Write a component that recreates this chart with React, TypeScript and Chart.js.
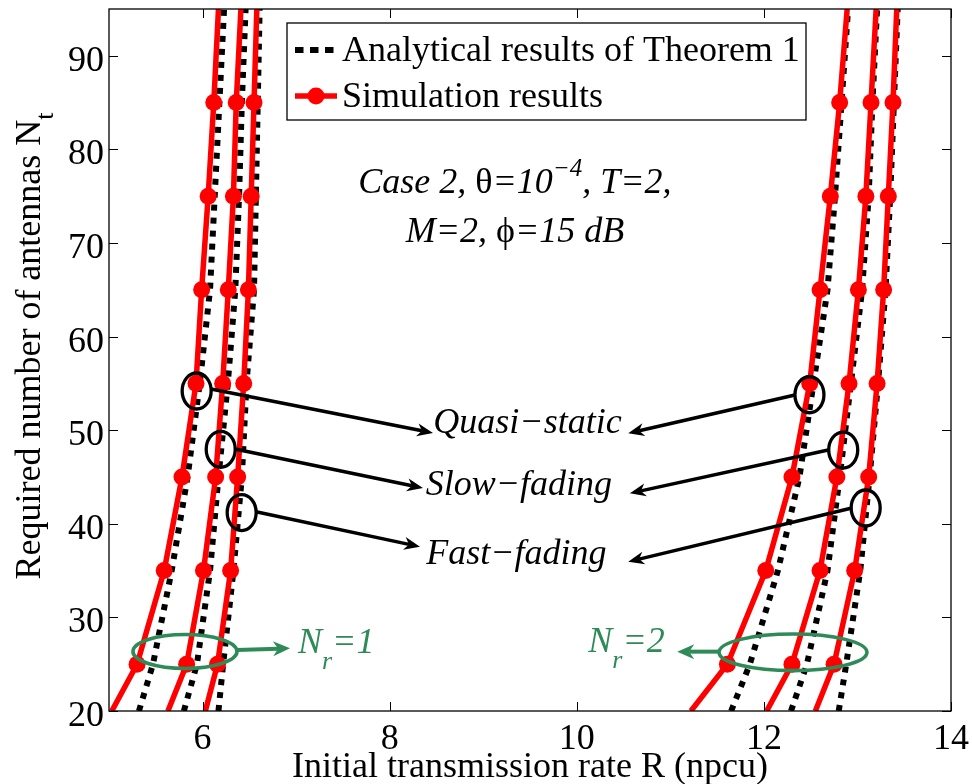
import React, { useEffect, useRef } from "react";
import { Chart, registerables } from "chart.js";

Chart.register(...registerables);

// ---------- data ----------
const X_MIN = 5;
const X_MAX = 14;
const Y_MIN = 20;
const Y_MAX = 95;
const X_TICKS = [6, 8, 10, 12, 14];
const Y_TICKS = [20, 30, 40, 50, 60, 70, 80, 90];

// required number of antennas N_t (curve sample levels)
const NT = [20, 25, 35, 45, 55, 65, 75, 85, 95];
// which levels carry a simulation marker
const MARKED = [false, true, true, true, true, true, true, true, false];

// N_r = 1 : simulation results (R in npcu)
const SIM_QS_NR1 = [5.03, 5.3, 5.59, 5.78, 5.93, 5.99, 6.06, 6.12, 6.17];
const SIM_SLOW_NR1 = [5.63, 5.83, 6.01, 6.14, 6.215, 6.275, 6.33, 6.36, 6.41];
const SIM_FAST_NR1 = [6.03, 6.16, 6.3, 6.375, 6.44, 6.49, 6.52, 6.55, 6.58];
// N_r = 1 : analytical results of Theorem 1
const ANA_QS_NR1 = [5.32, 5.47, 5.67, 5.84, 5.97, 6.08, 6.13, 6.18, 6.23];
const ANA_SLOW_NR1 = [5.8, 5.94, 6.08, 6.17, 6.27, 6.35, 6.39, 6.42, 6.46];
const ANA_FAST_NR1 = [6.17, 6.22, 6.33, 6.42, 6.47, 6.55, 6.57, 6.59, 6.61];

// N_r = 2 : simulation results
const SIM_QS_NR2 = [11.22, 11.61, 12.02, 12.3, 12.49, 12.6, 12.71, 12.81, 12.89];
const SIM_SLOW_NR2 = [12.03, 12.3, 12.6, 12.78, 12.91, 13.01, 13.09, 13.145, 13.2];
const SIM_FAST_NR2 = [12.55, 12.75, 12.97, 13.12, 13.21, 13.28, 13.33, 13.38, 13.42];
// N_r = 2 : analytical results
const ANA_QS_NR2 = [11.65, 11.85, 12.15, 12.38, 12.53, 12.68, 12.76, 12.83, 12.9];
const ANA_SLOW_NR2 = [12.29, 12.46, 12.68, 12.81, 12.93, 13.05, 13.12, 13.16, 13.21];
const ANA_FAST_NR2 = [12.8, 12.88, 13.03, 13.13, 13.22, 13.3, 13.35, 13.39, 13.43];

const SIM_SERIES = [SIM_QS_NR1, SIM_SLOW_NR1, SIM_FAST_NR1, SIM_QS_NR2, SIM_SLOW_NR2, SIM_FAST_NR2];
const ANA_SERIES = [ANA_QS_NR1, ANA_SLOW_NR1, ANA_FAST_NR1, ANA_QS_NR2, ANA_SLOW_NR2, ANA_FAST_NR2];

const LEGEND_LABELS = ["Analytical results of Theorem 1", "Simulation results"];
const X_TITLE = "Initial transmission rate R (npcu)";
const Y_TITLE = "Required number of antennas N";
const Y_TITLE_SUB = "t";
const REGIME_LABELS = ["Quasi\u2212static", "Slow\u2212fading", "Fast\u2212fading"];

// annotation anchors, in data units (R, N_t)
const BLACK_ELLIPSES = [
  [5.937, 54.19], [6.194, 47.96], [6.418, 41.2],
  [12.487, 53.79], [12.848, 47.88], [13.088, 41.69],
];
const BLACK_ARROWS = [
  [6.09, 54.4, 8.463, 49.7],
  [6.347, 47.99, 8.356, 43.82],
  [6.571, 41.29, 8.324, 37.55],
  [12.332, 53.76, 10.55, 49.67],
  [12.688, 47.88, 10.568, 43.26],
  [12.93, 41.66, 10.55, 35.95],
];
const REGIME_LABEL_POS = [[9.473, 49.7], [9.382, 43.08], [9.355, 35.71]];
const GREEN_ELLIPSES = [[5.812, 26.36, 52, 17], [12.311, 26.27, 74, 18.3]];
const GREEN_ARROWS = [[6.368, 26.52, 6.935, 26.7], [11.52, 26.34, 11.074, 26.34]];
const NR_LABELS = [["1", 7.02, 26.23], ["2", 10.123, 26.34]];
const CASE_POS = [[9.339, 75.34], [9.339, 70.11]];

// ---------- styling ----------
const FAMILY = '"Liberation Serif", "Times New Roman", "DejaVu Serif", serif';
const RED = "#ff0000";
const GREEN = "#2e8b57";
const FS = 36;

const fontOf = (size: number, italic: boolean) => `${italic ? "italic " : ""}${size}px ${FAMILY}`;

type Run = { t: string; it?: boolean; size?: number; dy?: number };

function drawRuns(ctx: CanvasRenderingContext2D, runs: Run[], x: number, y: number, align: "left" | "center" | "right", color: string) {
  let total = 0;
  const widths = runs.map((r) => {
    ctx.font = fontOf(r.size ?? FS, !!r.it);
    const w = ctx.measureText(r.t).width;
    total += w;
    return w;
  });
  let cx = align === "center" ? x - total / 2 : align === "right" ? x - total : x;
  ctx.fillStyle = color;
  ctx.textAlign = "left";
  ctx.textBaseline = "alphabetic";
  runs.forEach((r, i) => {
    ctx.font = fontOf(r.size ?? FS, !!r.it);
    ctx.fillText(r.t, cx, y + (r.dy ?? 0));
    cx += widths[i];
  });
}

function drawArrow(ctx: CanvasRenderingContext2D, x1: number, y1: number, x2: number, y2: number, color: string, lw: number, len: number, half: number) {
  const a = Math.atan2(y2 - y1, x2 - x1);
  const c = Math.cos(a);
  const s = Math.sin(a);
  const bx = x2 - len * c;
  const by = y2 - len * s;
  const nx = x2 - len * 0.7 * c;
  const ny = y2 - len * 0.7 * s;
  ctx.strokeStyle = color;
  ctx.lineWidth = lw;
  ctx.lineCap = "butt";
  ctx.beginPath();
  ctx.moveTo(x1, y1);
  ctx.lineTo(nx, ny);
  ctx.stroke();
  ctx.fillStyle = color;
  ctx.beginPath();
  ctx.moveTo(x2, y2);
  ctx.lineTo(bx + half * s, by - half * c);
  ctx.lineTo(nx, ny);
  ctx.lineTo(bx - half * s, by + half * c);
  ctx.closePath();
  ctx.fill();
}

const decorPlugin = {
  id: "decor",
  afterDatasetsDraw(chart: any) {
    const ctx: CanvasRenderingContext2D = chart.ctx;
    const xs = chart.scales.x;
    const ys = chart.scales.y;
    const area = chart.chartArea;
    const px = (v: number) => xs.getPixelForValue(v);
    const py = (v: number) => ys.getPixelForValue(v);
    ctx.save();

    // frame + inward ticks
    ctx.strokeStyle = "#000";
    ctx.lineWidth = 1.3;
    ctx.setLineDash([]);
    ctx.strokeRect(area.left, area.top, area.right - area.left, area.bottom - area.top);
    ctx.lineWidth = 1;
    const TL = 9;
    ctx.beginPath();
    X_TICKS.forEach((v) => {
      const x = Math.round(px(v)) + 0.5;
      ctx.moveTo(x, area.bottom);
      ctx.lineTo(x, area.bottom - TL);
      ctx.moveTo(x, area.top);
      ctx.lineTo(x, area.top + TL);
    });
    Y_TICKS.forEach((v) => {
      const y = Math.round(py(v)) + 0.5;
      ctx.moveTo(area.left, y);
      ctx.lineTo(area.left + TL, y);
      ctx.moveTo(area.right, y);
      ctx.lineTo(area.right - TL, y);
    });
    ctx.stroke();

    // tick labels
    X_TICKS.forEach((v) => {
      drawRuns(ctx, [{ t: String(v) }], px(v), area.bottom + 38, "center", "#000");
    });
    Y_TICKS.forEach((v) => {
      drawRuns(ctx, [{ t: String(v) }], area.left - 5, py(v) + 15, "right", "#000");
    });

    // black ellipses and arrows
    ctx.strokeStyle = "#000";
    ctx.lineWidth = 3.3;
    BLACK_ELLIPSES.forEach(([r, n]) => {
      ctx.beginPath();
      ctx.ellipse(px(r), py(n), 14.5, 18, 0, 0, Math.PI * 2);
      ctx.stroke();
    });
    BLACK_ARROWS.forEach(([r1, n1, r2, n2]) => {
      drawArrow(ctx, px(r1), py(n1), px(r2), py(n2), "#000", 3.5, 16, 6.5);
    });
    REGIME_LABELS.forEach((label, i) => {
      const [r, n] = REGIME_LABEL_POS[i];
      drawRuns(ctx, [{ t: label, it: true }], px(r), py(n), "center", "#000");
    });

    // green ellipses, arrows, N_r labels
    ctx.strokeStyle = GREEN;
    ctx.lineWidth = 3.6;
    GREEN_ELLIPSES.forEach(([r, n, rx, ry]) => {
      ctx.beginPath();
      ctx.ellipse(px(r), py(n), rx, ry, 0, 0, Math.PI * 2);
      ctx.stroke();
    });
    GREEN_ARROWS.forEach(([r1, n1, r2, n2]) => {
      drawArrow(ctx, px(r1), py(n1), px(r2), py(n2), GREEN, 4, 17, 7.5);
    });
    NR_LABELS.forEach(([val, r, n]) => {
      drawRuns(
        ctx,
        [
          { t: "N", it: true },
          { t: "r", it: true, size: 26, dy: 16 },
          { t: "=" + val, it: true },
        ],
        px(r as number),
        py(n as number),
        "left",
        GREEN
      );
    });

    // parameter text
    drawRuns(
      ctx,
      [
        { t: "Case 2, ", it: true },
        { t: "\u03b8" },
        { t: "=10", it: true },
        { t: "\u22124", it: true, size: 25, dy: -17 },
        { t: ", T=2,", it: true },
      ],
      px(CASE_POS[0][0]),
      py(CASE_POS[0][1]),
      "center",
      "#000"
    );
    drawRuns(
      ctx,
      [
        { t: "M=2, ", it: true },
        { t: "\u03d5" },
        { t: "=15 dB", it: true },
      ],
      px(CASE_POS[1][0]),
      py(CASE_POS[1][1]),
      "center",
      "#000"
    );

    // legend box
    const lx = area.left + 178;
    const ly = area.top + 14;
    const lw = 519;
    const lh = 97;
    ctx.fillStyle = "#fff";
    ctx.fillRect(lx, ly, lw, lh);
    ctx.strokeStyle = "#000";
    ctx.lineWidth = 1.3;
    ctx.strokeRect(lx, ly, lw, lh);
    // analytical sample
    ctx.setLineDash([8.5, 6.5]);
    ctx.lineWidth = 6;
    ctx.lineCap = "butt";
    ctx.beginPath();
    ctx.moveTo(lx + 8, ly + 27);
    ctx.lineTo(lx + 51, ly + 27);
    ctx.stroke();
    ctx.setLineDash([]);
    // simulation sample
    ctx.strokeStyle = RED;
    ctx.lineWidth = 5.5;
    ctx.beginPath();
    ctx.moveTo(lx + 8, ly + 73);
    ctx.lineTo(lx + 50, ly + 73);
    ctx.stroke();
    ctx.fillStyle = RED;
    ctx.beginPath();
    ctx.arc(lx + 29, ly + 73, 8.5, 0, Math.PI * 2);
    ctx.fill();
    drawRuns(ctx, [{ t: LEGEND_LABELS[0] }], lx + 55, ly + 38, "left", "#000");
    drawRuns(ctx, [{ t: LEGEND_LABELS[1] }], lx + 55, ly + 84, "left", "#000");

    // axis titles
    drawRuns(ctx, [{ t: X_TITLE }], (area.left + area.right) / 2, 777, "center", "#000");
    ctx.save();
    ctx.translate(40, 346);
    ctx.rotate(-Math.PI / 2);
    drawRuns(ctx, [{ t: Y_TITLE }, { t: Y_TITLE_SUB, size: 26, dy: 13 }], 0, 0, "center", "#000");
    ctx.restore();

    ctx.restore();
  },
};

export default function App() {
  const canvasRef = useRef<HTMLCanvasElement | null>(null);

  useEffect(() => {
    const canvas = canvasRef.current;
    if (!canvas) return;

    const datasets: any[] = [];
    SIM_SERIES.forEach((series) => {
      datasets.push({
        data: series.map((r, i) => ({ x: r, y: NT[i] })),
        borderColor: RED,
        backgroundColor: RED,
        borderWidth: 5.5,
        pointRadius: MARKED.map((m) => (m ? 8.5 : 0)),
        pointBorderWidth: 0,
        pointBackgroundColor: RED,
        pointHoverRadius: 0,
        tension: 0,
        clip: 0,
        order: 0,
      });
    });
    ANA_SERIES.forEach((series) => {
      datasets.push({
        data: series.map((r, i) => ({ x: r, y: NT[i] })),
        borderColor: "#000",
        borderWidth: 6,
        borderDash: [6, 7],
        borderCapStyle: "butt",
        pointRadius: 0,
        pointHoverRadius: 0,
        tension: 0,
        clip: 0,
        order: 1,
      });
    });

    const chart = new Chart(canvas, {
      type: "line",
      data: { datasets },
      options: {
        responsive: false,
        animation: false,
        devicePixelRatio: 1,
        events: [],
        layout: { padding: { left: 0, right: 21, top: 9, bottom: 0 } },
        plugins: { legend: { display: false }, tooltip: { enabled: false } },
        scales: {
          x: {
            type: "linear",
            min: X_MIN,
            max: X_MAX,
            afterBuildTicks: (s: any) => {
              s.ticks = X_TICKS.map((v) => ({ value: v }));
            },
            afterFit: (s: any) => {
              s.height = 73;
            },
            grid: { display: false },
            border: { display: false },
            ticks: { display: false },
          },
          y: {
            type: "linear",
            min: Y_MIN,
            max: Y_MAX,
            afterBuildTicks: (s: any) => {
              s.ticks = Y_TICKS.map((v) => ({ value: v }));
            },
            afterFit: (s: any) => {
              s.width = 109;
            },
            grid: { display: false },
            border: { display: false },
            ticks: { display: false },
          },
        },
      },
      plugins: [decorPlugin],
    } as any);

    return () => chart.destroy();
  }, []);

  return (
    <div style={{ position: "fixed", left: 0, top: 0, width: 972, height: 784, background: "#fff" }}>
      <canvas ref={canvasRef} width={972} height={784} style={{ display: "block" }} />
    </div>
  );
}
